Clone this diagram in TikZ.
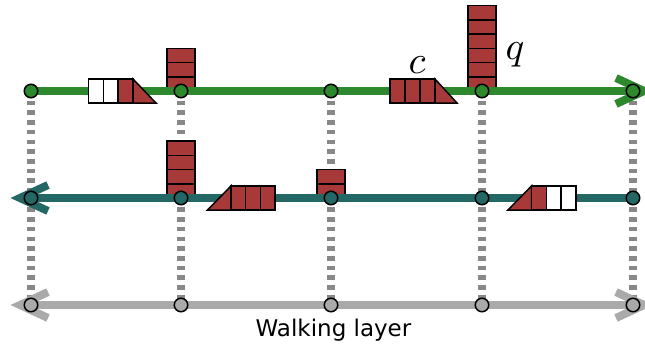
\documentclass[tikz,border=0pt]{standalone}
\usepackage{graphicx}
\usepackage{fontspec}
\newfontfamily\walkfont{DejaVu Sans}
\usetikzlibrary{calc}
\definecolor{lgreen}{RGB}{46,137,46}
\definecolor{lteal}{RGB}{35,104,100}
\definecolor{lgray}{RGB}{170,170,170}
\definecolor{dgray}{RGB}{136,136,136}
\definecolor{cred}{RGB}{168,57,57}
\tikzset{
  vdash/.style={draw=dgray, line width=7.5pt, dash pattern=on 4.6pt off 5.1pt},
  railline/.style={line width=8pt},
  chev/.style={line width=8pt, line join=miter, miter limit=10},
  box/.style={draw=black, line width=1.5pt, fill=cred},
  wbox/.style={box, fill=white},
  station/.style={circle, draw=black, line width=1.5pt, minimum size=13.5pt, inner sep=0pt},
  lbl/.style={anchor=base, inner sep=0pt},
}
\newcommand{\biglbl}[1]{\scalebox{3.9}{$#1$}}
\begin{document}
\begin{tikzpicture}[x=1pt,y=-1pt]
\clip (0,0) rectangle (645,346);
\foreach \i/\x in {1/31,2/181,3/331,4/482,5/633}{
  \coordinate (g\i) at (\x,91);
  \coordinate (t\i) at (\x,198);
  \coordinate (w\i) at (\x,305);
}
% vertical dashed links
\foreach \i in {1,...,5}{ \draw[vdash] (g\i) -- (w\i); }
% vertical stacks (queues at stations)
\def\bh{14.25}
\foreach \k in {1,2,3}{ \draw[box] ($(g2)+(-14,-\k*\bh)$) rectangle ++(28,\bh); }
\foreach \k in {1,...,6}{ \draw[box] ($(g4)+(-14,-\k*\bh)$) rectangle ++(28,\bh); }
\foreach \k in {1,...,4}{ \draw[box] ($(t2)+(-14,-\k*\bh)$) rectangle ++(28,\bh); }
\foreach \k in {1,2}{ \draw[box] ($(t3)+(-14,-\k*\bh)$) rectangle ++(28,\bh); }
% lines
\draw[railline, draw=lgreen] (g1) -- ($(g5)+(10,0)$);
\draw[chev, draw=lgreen] ($(g5)+(-17,-13)$) -- ($(g5)+(11,0)$) -- ($(g5)+(-17,13)$);
\draw[railline, draw=lteal] ($(t1)+(-10,0)$) -- (t5);
\draw[chev, draw=lteal] ($(t1)+(17,-13)$) -- ($(t1)+(-11,0)$) -- ($(t1)+(17,13)$);
\draw[railline, draw=lgray] ($(w1)+(-10,0)$) -- ($(w5)+(10,0)$);
\draw[chev, draw=lgray] ($(w1)+(17,-13)$) -- ($(w1)+(-11,0)$) -- ($(w1)+(17,13)$);
\draw[chev, draw=lgray] ($(w5)+(-17,-13)$) -- ($(w5)+(11,0)$) -- ($(w5)+(-17,13)$);
% trains on green line (moving right)
\draw[wbox] (88.5,79) rectangle (103.3,103);
\draw[wbox] (103.3,79) rectangle (118.2,103);
\draw[box] (118.2,79) rectangle (133,103);
\draw[box] (133,79) -- (156,103) -- (133,103) -- cycle;
\draw[box] (390,79) rectangle (405,103);
\draw[box] (405,79) rectangle (420,103);
\draw[box] (420,79) rectangle (435,103);
\draw[box] (435,79) -- (457,103) -- (435,103) -- cycle;
% trains on teal line (moving left)
\draw[box] (231,186) -- (207.5,210) -- (231,210) -- cycle;
\draw[box] (231,186) rectangle (245.7,210);
\draw[box] (245.7,186) rectangle (260.3,210);
\draw[box] (260.3,186) rectangle (275,210);
\draw[box] (531.5,186) -- (508,210) -- (531.5,210) -- cycle;
\draw[box] (531.5,186) rectangle (546.3,210);
\draw[wbox] (546.3,186) rectangle (561.2,210);
\draw[wbox] (561.2,186) rectangle (576,210);
% stations
\foreach \i in {1,...,5}{
  \node[station, fill=lgreen] (G\i) at (g\i) {};
  \node[station, fill=lteal] (T\i) at (t\i) {};
  \node[station, fill=lgray] (W\i) at (w\i) {};
}
% labels
\node[lbl] (c) at (417,73) {\biglbl{c}};
\node[lbl] (q) at (515,59.5) {\biglbl{q}};
\node[anchor=base, inner sep=0pt] (walk) at (333.5,336.7) {\walkfont\fontsize{23}{26}\selectfont Walking layer};
\end{tikzpicture}
\end{document}
